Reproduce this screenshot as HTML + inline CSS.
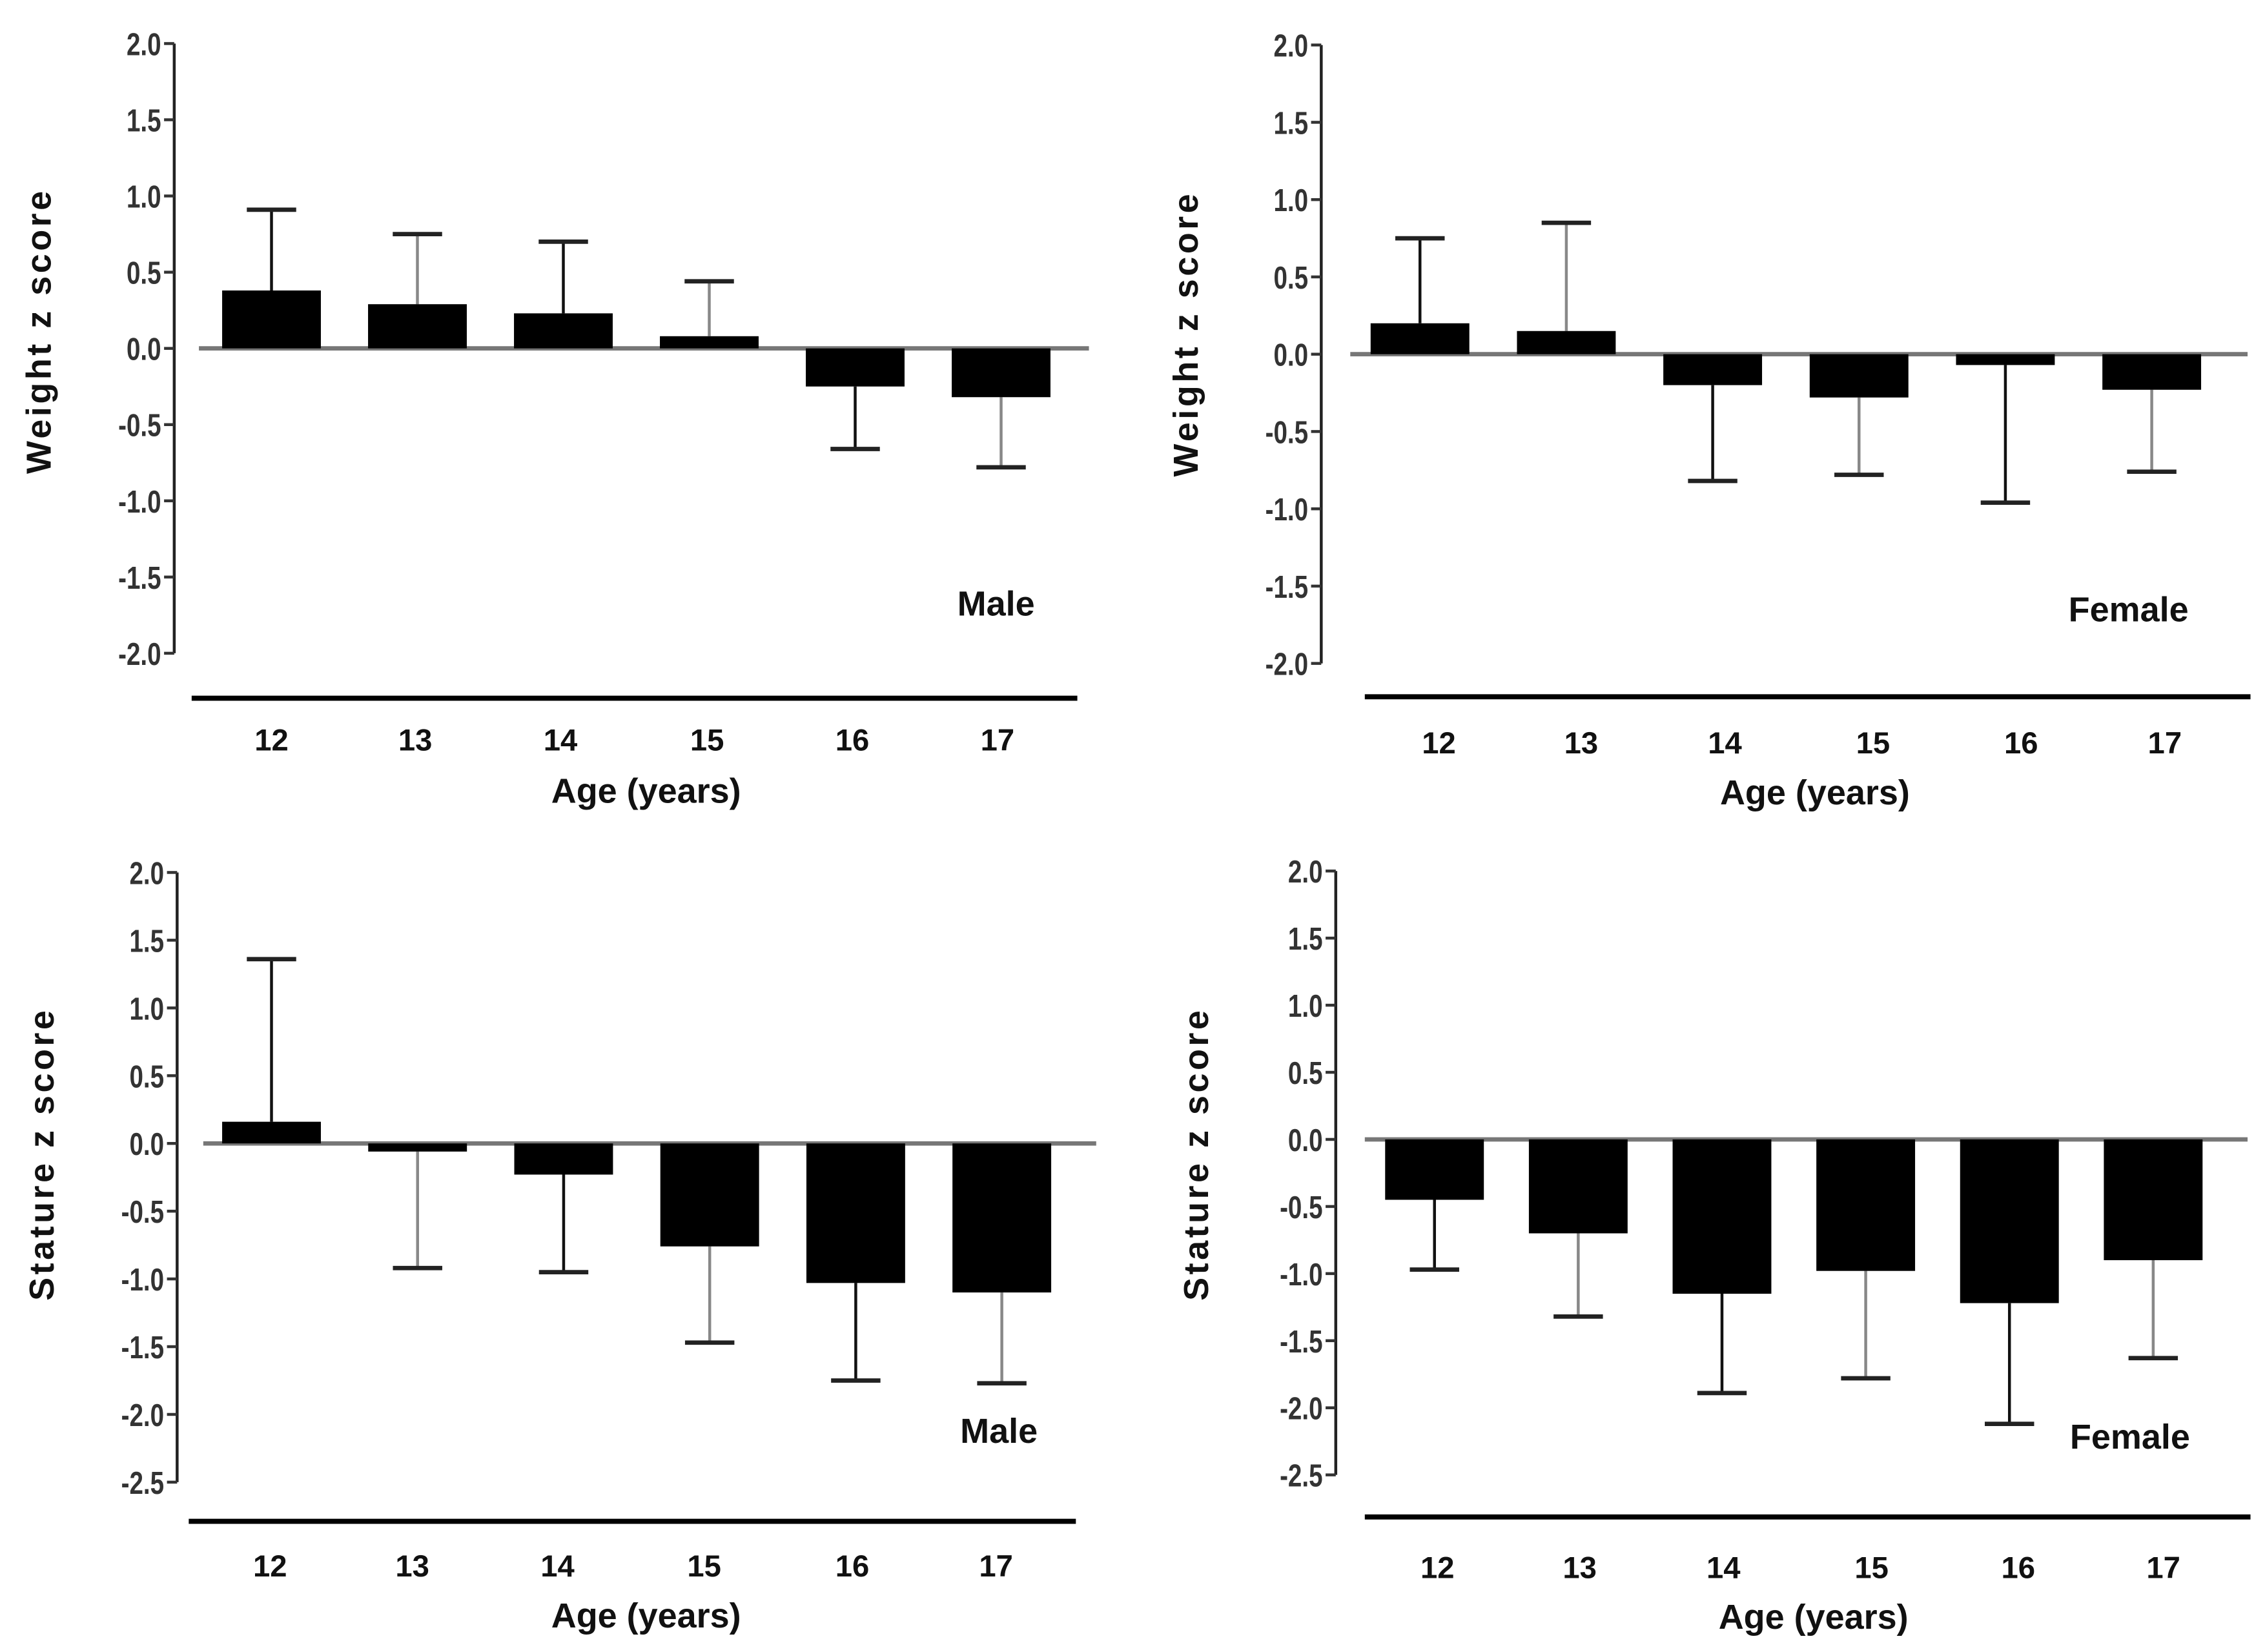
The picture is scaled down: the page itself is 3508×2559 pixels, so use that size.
<!DOCTYPE html>
<html><head><meta charset="utf-8"><style>
html,body{margin:0;padding:0;background:#fff;}
svg{display:block;}
text{font-family:"Liberation Sans",sans-serif;font-weight:bold;}
</style></head>
<body>
<svg id="chart" width="3508" height="2559" viewBox="0 0 1560 1138" preserveAspectRatio="none" xmlns="http://www.w3.org/2000/svg"></svg>
<script>
const ages = ["12","13","14","15","16","17"];
const weightMale = [0.38, 0.29, 0.23, 0.08, -0.25, -0.32];
const weightMaleErr = [0.91, 0.75, 0.70, 0.44, -0.66, -0.78];
const weightFemale = [0.20, 0.15, -0.20, -0.28, -0.07, -0.23];
const weightFemaleErr = [0.75, 0.85, -0.82, -0.78, -0.96, -0.76];
const statureMale = [0.16, -0.06, -0.23, -0.76, -1.03, -1.10];
const statureMaleErr = [1.36, -0.92, -0.95, -1.47, -1.75, -1.77];
const statureFemale = [-0.45, -0.70, -1.15, -0.98, -1.22, -0.90];
const statureFemaleErr = [-0.97, -1.32, -1.89, -1.78, -2.12, -1.63];
const weightTicks = ["2.0","1.5","1.0","0.5","0.0","-0.5","-1.0","-1.5","-2.0"];
const statureTicks = ["2.0","1.5","1.0","0.5","0.0","-0.5","-1.0","-1.5","-2.0","-2.5"];
const errGrey = [false,true,false,true,false,true];

const NS="http://www.w3.org/2000/svg";
const svg=document.getElementById('chart');
function mk(tag,attrs,parent){const e=document.createElementNS(NS,tag);for(const k in attrs)e.setAttribute(k,attrs[k]);(parent||svg).appendChild(e);return e;}

const panels=[
 {name:'weight-male',vals:weightMale,errs:weightMaleErr,ticks:weightTicks,ax:120,yTop:30,yBot:450,zx0:137,zx1:750,bx0:153,bstep:100.5,bw:68,
  baseY:481,bl0:132,bl1:742,labX:[187,286,386,487,587,687],labY:517,ageX:445,ageY:553,title:'Weight z score',tx:27,ty:228,sex:'Male',sx:686,sy:424},
 {name:'weight-female',vals:weightFemale,errs:weightFemaleErr,ticks:weightTicks,ax:910,yTop:31,yBot:457,zx0:930,zx1:1548,bx0:944,bstep:100.8,bw:68,
  baseY:480,bl0:940,bl1:1550,labX:[991,1089,1188,1290,1392,1491],labY:519,ageX:1250,ageY:554,title:'Weight z score',tx:817,ty:230,sex:'Female',sx:1466,sy:428},
 {name:'stature-male',vals:statureMale,errs:statureMaleErr,ticks:statureTicks,ax:122,yTop:601,yBot:1021,zx0:140,zx1:755,bx0:153,bstep:100.6,bw:68,
  baseY:1048,bl0:130,bl1:741,labX:[186,284,384,485,587,686],labY:1086,ageX:445,ageY:1121,title:'Stature z score',tx:29,ty:795,sex:'Male',sx:688,sy:994},
 {name:'stature-female',vals:statureFemale,errs:statureFemaleErr,ticks:statureTicks,ax:920,yTop:600,yBot:1016,zx0:940,zx1:1548,bx0:954,bstep:99,bw:68,
  baseY:1045,bl0:940,bl1:1550,labX:[990,1088,1187,1289,1390,1490],labY:1087,ageX:1249,ageY:1122,title:'Stature z score',tx:824,ty:795,sex:'Female',sx:1467,sy:998}
];

panels.forEach(p=>{
  const g=mk('g',{});
  
  
  const tmax=parseFloat(p.ticks[0]), tmin=parseFloat(p.ticks[p.ticks.length-1]);
  const y=v=>p.yTop+(tmax-v)/(tmax-tmin)*(p.yBot-p.yTop);
  const ax=mk('line',{x1:p.ax,y1:p.yTop,x2:p.ax,y2:p.yBot,stroke:'#222','stroke-width':2},g);
  
  
  p.ticks.forEach(t=>{
    const yy=y(parseFloat(t));
    mk('line',{x1:p.ax-7,y1:yy,x2:p.ax,y2:yy,stroke:'#333','stroke-width':2},g);
    const tx=mk('text',{x:p.ax-9,y:yy+8,'text-anchor':'end','font-size':22,fill:'#333',transform:`translate(${p.ax-9},0) scale(0.78,1) translate(${-(p.ax-9)},0)`},g);
    tx.textContent=t;
    
    
  });
  const z=mk('line',{x1:p.zx0,y1:y(0),x2:p.zx1,y2:y(0),stroke:'#777','stroke-width':3},g);
  
  
  p.vals.forEach((v,i)=>{
    const x0=p.bx0+i*p.bstep, cx=x0+p.bw/2;
    const e=p.errs[i];
    const col=errGrey[i]?'#888':'#111';
    const el=mk('line',{x1:cx,y1:y(v),x2:cx,y2:y(e),stroke:col,'stroke-width':2},g);
    
    
    mk('line',{x1:cx-17,y1:y(e),x2:cx+17,y2:y(e),stroke:'#222','stroke-width':3},g);
    const top=Math.min(y(v),y(0)), h=Math.abs(y(v)-y(0));
    const r=mk('rect',{x:x0,y:top,width:p.bw,height:h,fill:'#000'},g);
    
    
  });
  const bl=mk('line',{x1:p.bl0,y1:p.baseY,x2:p.bl1,y2:p.baseY,stroke:'#000','stroke-width':3.5},g);
  
  
  ages.forEach((a,i)=>{
    const t=mk('text',{x:p.labX[i],y:p.labY,'text-anchor':'middle','font-size':21,fill:'#111'},g);
    t.textContent=a;
    
    
  });
  const at=mk('text',{x:p.ageX,y:p.ageY,'text-anchor':'middle','font-size':24,fill:'#111'},g);
  at.textContent='Age (years)';
  
  
  const yt=mk('text',{x:0,y:0,'text-anchor':'middle','font-size':24,fill:'#111','letter-spacing':2,transform:`translate(${p.tx+8},${p.ty}) rotate(-90)`},g);
  yt.textContent=p.title;
  
  
  const sx=mk('text',{x:p.sx,y:p.sy,'text-anchor':'middle','font-size':24,fill:'#111'},g);
  sx.textContent=p.sex;
  
  
});
</script>
</body></html>
